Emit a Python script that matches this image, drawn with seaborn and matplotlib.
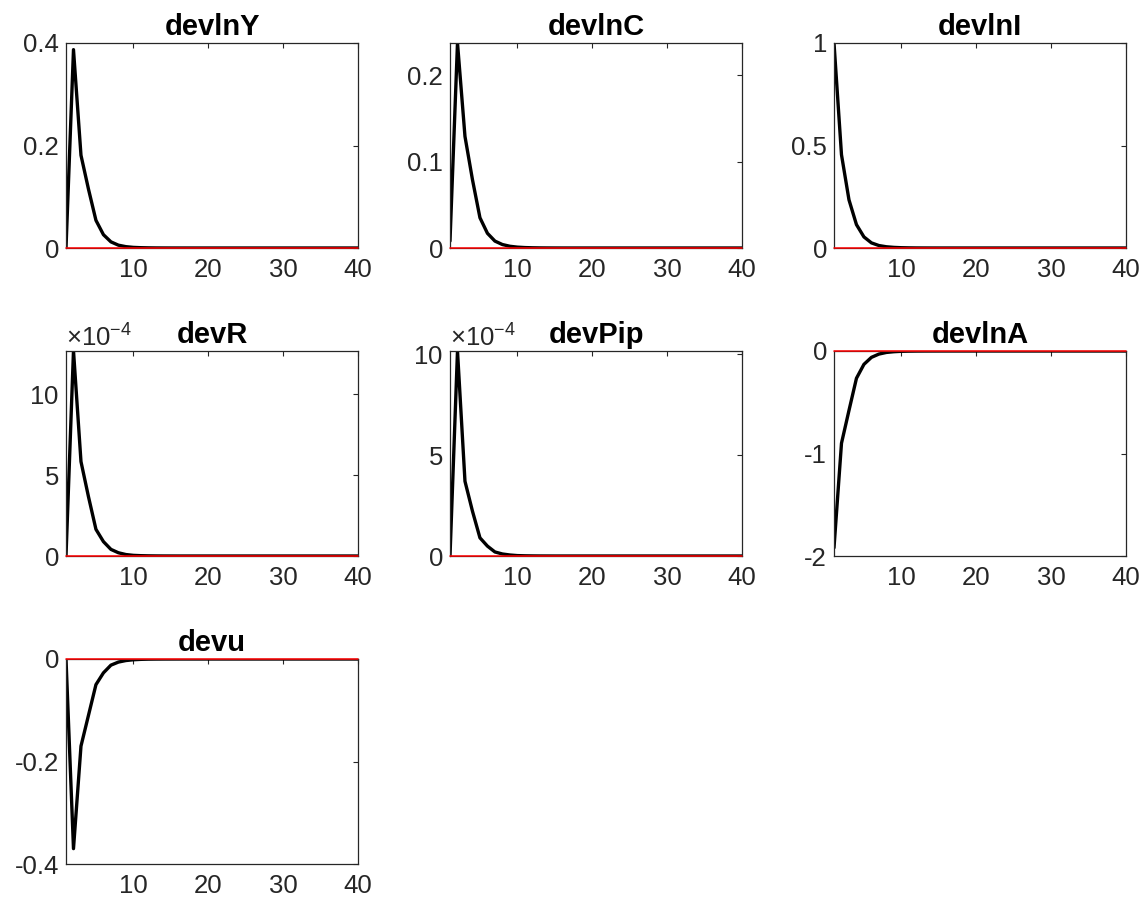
"""Impulse responses to the shock, Dynare-style 3x3 grid (7 panels)."""
import matplotlib
matplotlib.use('Agg')
import matplotlib.pyplot as plt
from matplotlib.ticker import FixedLocator, FuncFormatter, ScalarFormatter
import seaborn as sns

# horizon 1..40
periods = list(range(1, 41))

devlnY = [0.0, 0.387, 0.181, 0.115, 0.054, 0.026, 0.012, 0.0055, 0.0026, 0.0012,
          0.0006, 0.0003, 0.00014, 0.00007, 0.00003, 0.00002, 0.00001, 0.0, 0.0, 0.0,
          0.0, 0.0, 0.0, 0.0, 0.0, 0.0, 0.0, 0.0, 0.0, 0.0,
          0.0, 0.0, 0.0, 0.0, 0.0, 0.0, 0.0, 0.0, 0.0, 0.0]
devlnC = [0.008, 0.237, 0.129, 0.079, 0.035, 0.017, 0.008, 0.004, 0.002, 0.001,
          0.0005, 0.00025, 0.00012, 0.00006, 0.00003, 0.00001, 0.0, 0.0, 0.0, 0.0,
          0.0, 0.0, 0.0, 0.0, 0.0, 0.0, 0.0, 0.0, 0.0, 0.0,
          0.0, 0.0, 0.0, 0.0, 0.0, 0.0, 0.0, 0.0, 0.0, 0.0]
devlnI = [1.0, 0.455, 0.235, 0.114, 0.054, 0.025, 0.012, 0.006, 0.003, 0.0014,
          0.0007, 0.0003, 0.00015, 0.00007, 0.00003, 0.00002, 0.00001, 0.0, 0.0, 0.0,
          0.0, 0.0, 0.0, 0.0, 0.0, 0.0, 0.0, 0.0, 0.0, 0.0,
          0.0, 0.0, 0.0, 0.0, 0.0, 0.0, 0.0, 0.0, 0.0, 0.0]
devR = [0.0, 12.7e-4, 5.84e-4, 3.67e-4, 1.65e-4, 0.89e-4, 0.41e-4, 0.2e-4, 0.09e-4, 0.04e-4,
        0.02e-4, 0.01e-4, 0.005e-4, 0.002e-4, 0.001e-4, 0.0, 0.0, 0.0, 0.0, 0.0,
        0.0, 0.0, 0.0, 0.0, 0.0, 0.0, 0.0, 0.0, 0.0, 0.0,
        0.0, 0.0, 0.0, 0.0, 0.0, 0.0, 0.0, 0.0, 0.0, 0.0]
devPip = [0.0, 10.15e-4, 3.7e-4, 2.22e-4, 0.9e-4, 0.49e-4, 0.2e-4, 0.1e-4, 0.05e-4, 0.02e-4,
          0.01e-4, 0.005e-4, 0.002e-4, 0.001e-4, 0.0, 0.0, 0.0, 0.0, 0.0, 0.0,
          0.0, 0.0, 0.0, 0.0, 0.0, 0.0, 0.0, 0.0, 0.0, 0.0,
          0.0, 0.0, 0.0, 0.0, 0.0, 0.0, 0.0, 0.0, 0.0, 0.0]
devlnA = [-1.92, -0.9, -0.58, -0.266, -0.13, -0.062, -0.03, -0.014, -0.007, -0.003,
          -0.0015, -0.0007, -0.0003, -0.00015, -0.00007, -0.00003, -0.00001, 0.0, 0.0, 0.0,
          0.0, 0.0, 0.0, 0.0, 0.0, 0.0, 0.0, 0.0, 0.0, 0.0,
          0.0, 0.0, 0.0, 0.0, 0.0, 0.0, 0.0, 0.0, 0.0, 0.0]
devu = [0.0, -0.37, -0.17, -0.11, -0.05, -0.027, -0.012, -0.006, -0.003, -0.0015,
        -0.0007, -0.0003, -0.00015, -0.00007, -0.00003, -0.00001, 0.0, 0.0, 0.0, 0.0,
        0.0, 0.0, 0.0, 0.0, 0.0, 0.0, 0.0, 0.0, 0.0, 0.0,
        0.0, 0.0, 0.0, 0.0, 0.0, 0.0, 0.0, 0.0, 0.0, 0.0]

names = ['devlnY', 'devlnC', 'devlnI', 'devR', 'devPip', 'devlnA', 'devu']
series = [devlnY, devlnC, devlnI, devR, devPip, devlnA, devu]
x_ticks = [10, 20, 30, 40]
y_limits = [(0, 0.4), (0, 0.237), (0, 1), (0, 12.68e-4), (0, 10.15e-4), (-2, 0), (-0.4, 0)]
y_ticks = [[0, 0.2, 0.4], [0, 0.1, 0.2], [0, 0.5, 1], [0, 5e-4, 10e-4],
           [0, 5e-4, 10e-4], [-2, -1, 0], [-0.4, -0.2, 0]]

sns.set_style('white')
plt.rcParams['font.family'] = ['Liberation Sans', 'DejaVu Sans']
plt.rcParams['mathtext.fontset'] = 'custom'
plt.rcParams['mathtext.rm'] = 'Liberation Sans'
plt.rcParams['mathtext.it'] = 'Liberation Sans:italic'
plt.rcParams['axes.unicode_minus'] = False

W, H = 1148, 907
fig = plt.figure(figsize=(W / 100, H / 100), dpi=100)
fig.patch.set_facecolor('white')

# axes boxes in pixels: left edges per column, top edges per row
col_left = [66, 450, 834]
row_top = [43, 351, 659]
ax_w, ax_h = 292, 205
dark = '#262626'
tick_fs = 18.5

for i, (name, vals) in enumerate(zip(names, series)):
    r, c = divmod(i, 3)
    left = col_left[c] / W
    bottom = (H - row_top[r] - ax_h) / H
    ax = fig.add_axes([left, bottom, ax_w / W, ax_h / H])

    sns.lineplot(x=periods, y=vals, color='black', linewidth=2.4, ax=ax)
    ax.plot([1, 40], [0, 0], color='red', linewidth=1.1, clip_on=False, zorder=3)

    ax.set_xlim(1, 40)
    ax.set_ylim(*y_limits[i])
    ax.xaxis.set_major_locator(FixedLocator(x_ticks))
    ax.yaxis.set_major_locator(FixedLocator(y_ticks[i]))
    ax.xaxis.set_major_formatter(FuncFormatter(lambda v, p: f'{v:g}'))
    if name in ('devR', 'devPip'):
        fmt = ScalarFormatter(useMathText=True)
        fmt.set_powerlimits((-4, -4))
        ax.yaxis.set_major_formatter(fmt)
        ax.yaxis.get_offset_text().set_fontsize(tick_fs)
        ax.yaxis.get_offset_text().set_color(dark)
    else:
        ax.yaxis.set_major_formatter(FuncFormatter(lambda v, p: f'{v:g}'))

    ax.set_xlabel('')
    ax.set_ylabel('')
    ax.set_title(name, fontsize=21, fontweight='bold', pad=6, color='black')
    ax.tick_params(direction='in', length=3.5, width=0.8, colors=dark,
                   labelsize=tick_fs, top=True, right=True)
    ax.tick_params(axis='x', pad=7)
    ax.tick_params(axis='y', pad=5)
    for sp in ax.spines.values():
        sp.set_visible(True)
        sp.set_color(dark)
        sp.set_linewidth(0.9)

fig.savefig('out.png', dpi=100, facecolor='white')
